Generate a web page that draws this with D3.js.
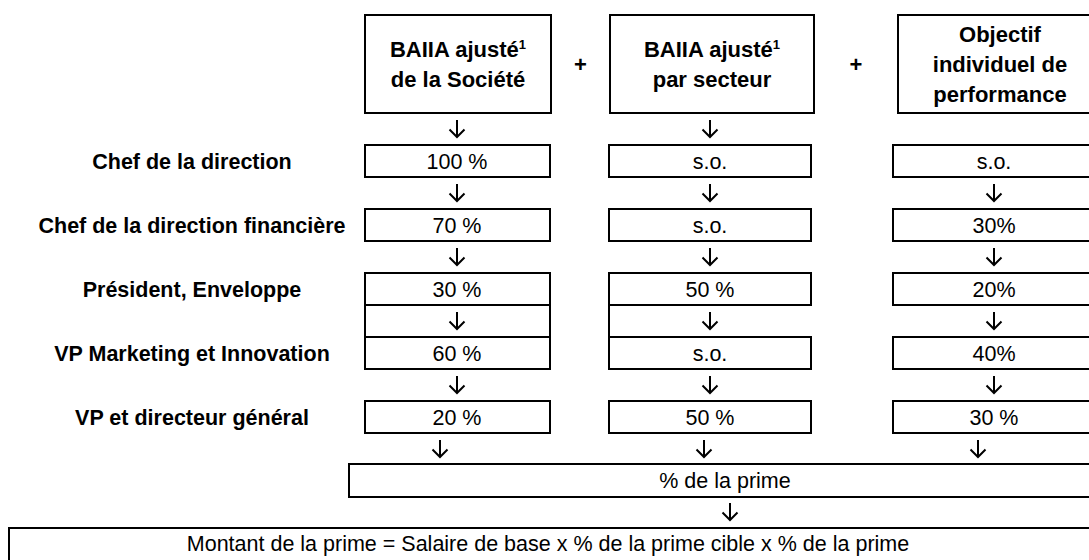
<!DOCTYPE html>
<html>
<head>
<meta charset="utf-8">
<script src="https://cdn.jsdelivr.net/npm/d3@7"></script>
<style>
  body { margin: 0; background: #fff; }
  svg text { font-family: "Liberation Sans", Arial, sans-serif; fill: #000; }
</style>
</head>
<body>
<svg width="1089" height="560"></svg>
<script>
const width = 1089
const height = 560

// data
const roles = [
  "Chef de la direction",
  "Chef de la direction financière",
  "Président, Enveloppe",
  "VP Marketing et Innovation",
  "VP et directeur général"
]
const headers = [
  ["BAIIA ajusté¹", "de la Société"],
  ["BAIIA ajusté¹", "par secteur"],
  ["Objectif", "individuel de", "performance"]
]
const companyEbitda = ["100 %", "70 %", "30 %", "60 %", "20 %"]
const sectorEbitda = ["s.o.", "s.o.", "50 %", "s.o.", "50 %"]
const individual = ["s.o.", "30%", "20%", "40%", "30 %"]
const resultLabel = "% de la prime"
const formula = "Montant de la prime = Salaire de base x % de la prime cible x % de la prime"

const series = [companyEbitda, sectorEbitda, individual]

// layout
const cols = [
  {x0: 365, x1: 550, hx0: 365, hx1: 551, cx: 457},
  {x0: 609, x1: 811, hx0: 610, hx1: 814, cx: 710},
  {x0: 893, x1: 1096, hx0: 898, hx1: 1102, cx: 994}
]
const y = d3.scaleBand().domain(roles).range([145, 433]).paddingInner(0.5).paddingOuter(0)
const bw = y.bandwidth()
const fs = 21.5

const svg = d3.select("svg")

function arrow(g, x, yc) {
  const h = 18, w = 7.5
  g.append("path")
    .attr("d", `M${x},${yc - h / 2}V${yc + h / 2 - 1}M${x - w},${yc + h / 2 - w - 1}L${x},${yc + h / 2 - 1}L${x + w},${yc + h / 2 - w - 1}`)
    .attr("fill", "none")
    .attr("stroke", "#000")
    .attr("stroke-width", 2)
}

// header boxes
const hTop = 15, hBot = 113
cols.forEach((c, i) => {
  svg.append("rect")
    .attr("x", c.hx0).attr("y", hTop)
    .attr("width", c.hx1 - c.hx0).attr("height", hBot - hTop)
    .attr("fill", "none").attr("stroke", "#000").attr("stroke-width", 2)
  const lines = headers[i]
  const lh = 30
  const mid = (hTop + hBot) / 2
  const hcx = (c.hx0 + c.hx1) / 2
  lines.forEach((ln, j) => {
    const by = mid + (j - (lines.length - 1) / 2) * lh + 8
    const t = svg.append("text")
      .attr("x", hcx).attr("y", by)
      .attr("text-anchor", "middle")
      .attr("font-weight", "bold")
      .attr("font-size", 22)
    if (ln.endsWith("¹")) {
      t.append("tspan").text(ln.slice(0, -1))
      t.append("tspan").attr("font-size", 13).attr("dy", -8).text("1")
    } else {
      t.text(ln)
    }
  })
})

// plus signs
svg.selectAll(".plus")
  .data([(cols[0].hx1 + cols[1].hx0) / 2, (cols[1].hx1 + cols[2].hx0) / 2])
  .join("text")
  .attr("class", "plus")
  .attr("x", d => d).attr("y", 72)
  .attr("text-anchor", "middle")
  .attr("font-weight", "bold")
  .attr("font-size", 22)
  .text("+")

// arrows under first two headers
arrow(svg, cols[0].cx, 129)
arrow(svg, cols[1].cx, 129)

// row labels
svg.selectAll(".role")
  .data(roles)
  .join("text")
  .attr("class", "role")
  .attr("x", 192)
  .attr("y", d => y(d) + bw / 2 + 7.5)
  .attr("text-anchor", "middle")
  .attr("font-weight", "bold")
  .attr("font-size", fs)
  .text(d => d)

// cells
cols.forEach((c, i) => {
  const g = svg.append("g")
  g.selectAll("rect")
    .data(roles)
    .join("rect")
    .attr("x", c.x0).attr("y", d => y(d))
    .attr("width", c.x1 - c.x0).attr("height", bw)
    .attr("fill", "none").attr("stroke", "#000").attr("stroke-width", 2)
  g.selectAll("text")
    .data(series[i])
    .join("text")
    .attr("x", c.cx)
    .attr("y", (d, k) => y(roles[k]) + bw / 2 + 7.5)
    .attr("text-anchor", "middle")
    .attr("font-size", fs)
    .text(d => d)
  roles.slice(0, -1).forEach(r => arrow(g, c.cx, y(r) + bw * 1.5))
})

// connector sides between row 3 and row 4
const r3 = y(roles[2]) + bw, r4 = y(roles[3])
;[cols[0].x0, cols[0].x1, cols[1].x0].forEach(x => {
  svg.append("line")
    .attr("x1", x).attr("x2", x).attr("y1", r3).attr("y2", r4)
    .attr("stroke", "#000").attr("stroke-width", 2)
})

// arrows below the last row
const lastBottom = y(roles[4]) + bw
;[440, 704, 978].forEach(x => arrow(svg, x, lastBottom + 16))

// result box
const pTop = 464, pBot = 497
svg.append("rect")
  .attr("x", 349).attr("y", pTop).attr("width", 752).attr("height", pBot - pTop)
  .attr("fill", "none").attr("stroke", "#000").attr("stroke-width", 2)
svg.append("text")
  .attr("x", 725).attr("y", (pTop + pBot) / 2 + 7.5)
  .attr("text-anchor", "middle").attr("font-size", fs)
  .text(resultLabel)
arrow(svg, 730, 512)

// formula box
svg.append("rect")
  .attr("x", 9).attr("y", 528).attr("width", 1092).attr("height", 60)
  .attr("fill", "none").attr("stroke", "#000").attr("stroke-width", 2)
svg.append("text")
  .attr("x", 548).attr("y", 551)
  .attr("text-anchor", "middle").attr("font-size", fs)
  .text(formula)
</script>
</body>
</html>
